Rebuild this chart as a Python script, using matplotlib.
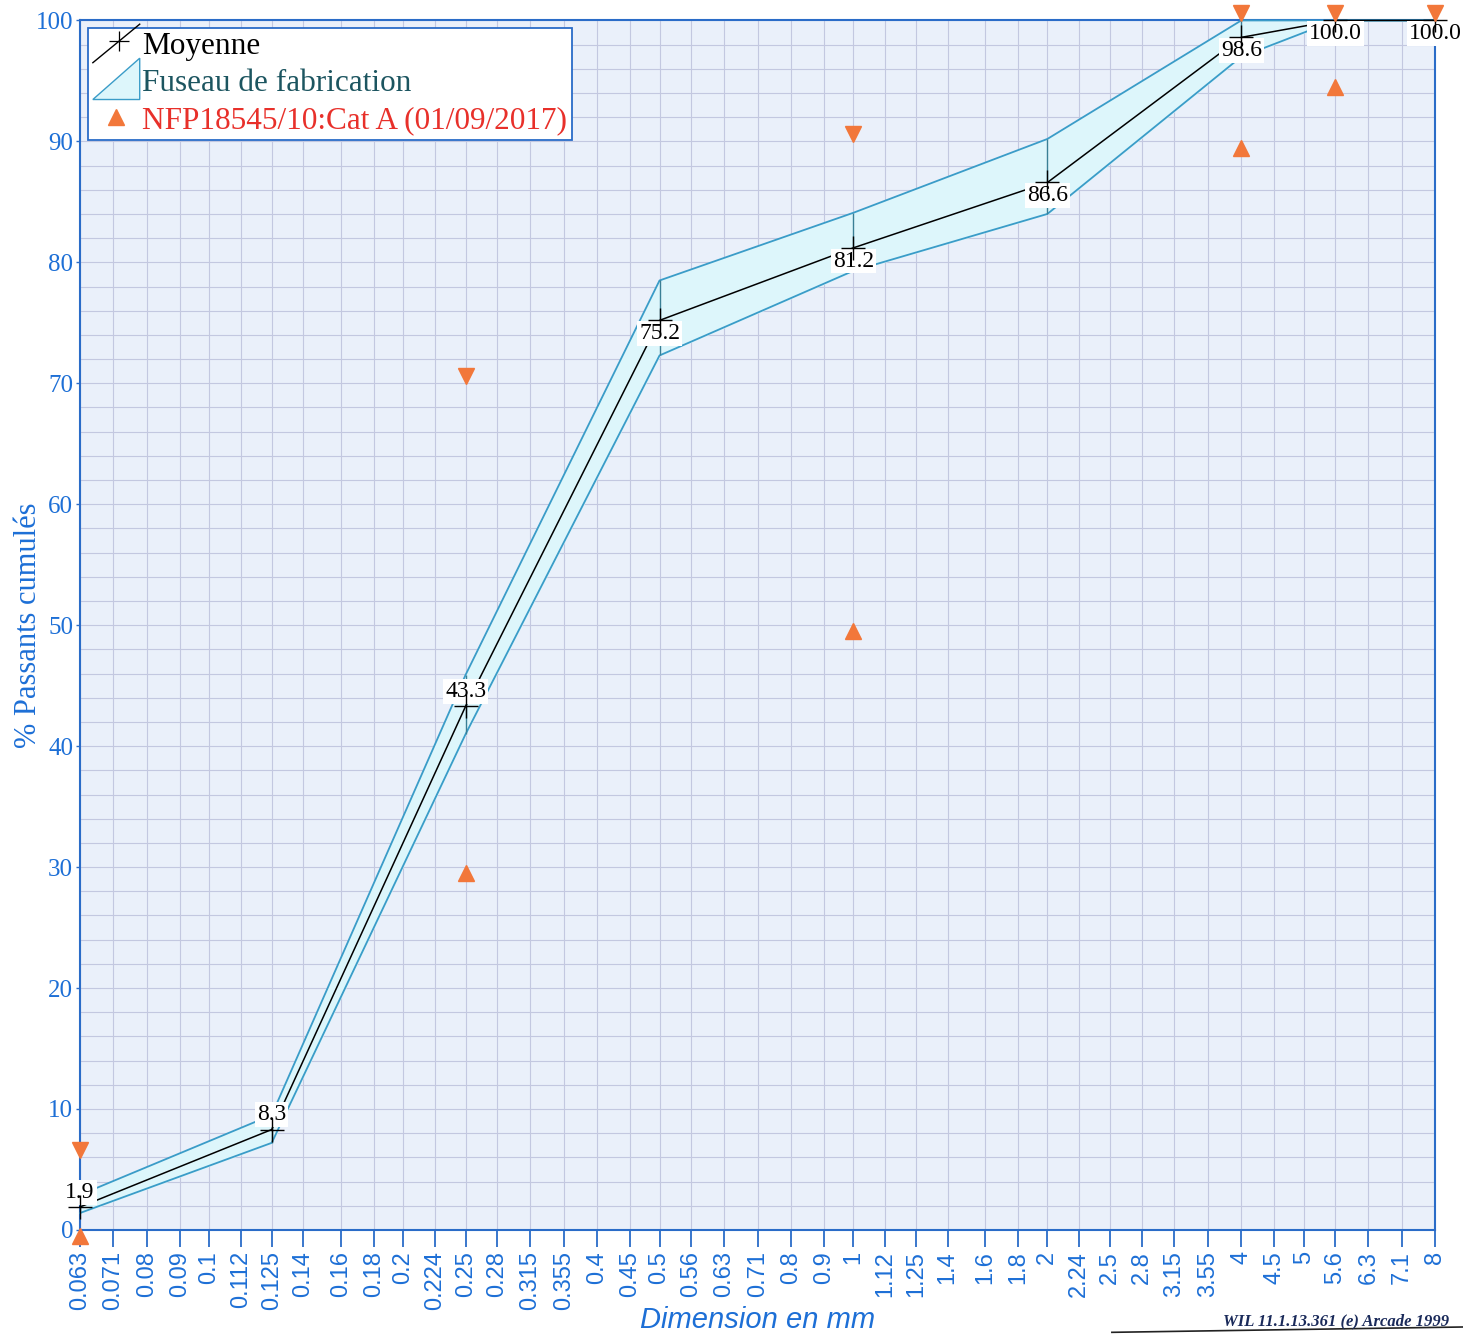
import matplotlib
matplotlib.use("Agg")
import matplotlib.pyplot as plt
import matplotlib.transforms as mtransforms
from matplotlib.lines import Line2D
from matplotlib.patches import Polygon
from matplotlib.legend_handler import HandlerBase
from matplotlib.ticker import FixedLocator, MultipleLocator, NullFormatter

# sieve sizes (mm) shown on the x axis
sieves = [0.063, 0.071, 0.08, 0.09, 0.1, 0.112, 0.125, 0.14, 0.16, 0.18, 0.2,
          0.224, 0.25, 0.28, 0.315, 0.355, 0.4, 0.45, 0.5, 0.56, 0.63, 0.71,
          0.8, 0.9, 1, 1.12, 1.25, 1.4, 1.6, 1.8, 2, 2.24, 2.5, 2.8, 3.15,
          3.55, 4, 4.5, 5, 5.6, 6.3, 7.1, 8]
sieve_labels = ["0.063", "0.071", "0.08", "0.09", "0.1", "0.112", "0.125", "0.14",
                "0.16", "0.18", "0.2", "0.224", "0.25", "0.28", "0.315", "0.355",
                "0.4", "0.45", "0.5", "0.56", "0.63", "0.71", "0.8", "0.9", "1",
                "1.12", "1.25", "1.4", "1.6", "1.8", "2", "2.24", "2.5", "2.8",
                "3.15", "3.55", "4", "4.5", "5", "5.6", "6.3", "7.1", "8"]

# mean curve and manufacturing band
x_pts = [0.063, 0.125, 0.25, 0.5, 1, 2, 4, 5.6, 8]
moyenne = [1.9, 8.3, 43.3, 75.2, 81.2, 86.6, 98.6, 100.0, 100.0]
fuseau_haut = [2.9, 9.5, 45.9, 78.5, 84.1, 90.2, 100.0, 100.0, 100.0]
fuseau_bas = [1.4, 7.2, 41.0, 72.3, 79.3, 84.0, 97.0, 100.0, 100.0]
labels_moy = ["1.9", "8.3", "43.3", "75.2", "81.2", "86.6", "98.6", "100.0", "100.0"]

# specification NFP18545/10 Cat A
spec_min_x = [0.063, 0.25, 1, 4, 5.6]
spec_min = [0, 30, 50, 90, 95]
spec_max_x = [0.063, 0.25, 1, 4, 5.6, 8]
spec_max = [6, 70, 90, 100, 100, 100]

BLUE = "#2a6cc8"
TICKBLUE = "#1d6fd6"
BAND_EDGE = "#3a9cc8"
BAND_FILL = "#ddf6fb"
ORANGE = "#f2773a"
GRID = "#c3c8e0"
SERIF = "Liberation Serif"


class DiagLineHandler(HandlerBase):
    def create_artists(self, legend, orig_handle, xdescent, ydescent,
                       width, height, fontsize, trans):
        ln = Line2D([-xdescent, -xdescent + width], [-ydescent - 6, -ydescent + height + 6],
                    color="black", lw=1.0, transform=trans)
        mk = Line2D([-xdescent + width * 0.55], [-ydescent + height * 0.62], marker="+",
                    markersize=14, mew=0.9, color="black", transform=trans)
        return [ln, mk]


class DiagBandHandler(HandlerBase):
    def create_artists(self, legend, orig_handle, xdescent, ydescent,
                       width, height, fontsize, trans):
        p = Polygon([[-xdescent, -ydescent - 6], [-xdescent + width, -ydescent + height + 8],
                     [-xdescent + width, -ydescent - 6]], closed=True,
                    facecolor=BAND_FILL, edgecolor=BAND_EDGE, lw=1.0, transform=trans)
        return [p]


fig = plt.figure(figsize=(14.63, 13.35), dpi=100)
ax = fig.add_axes([0.0547, 0.0787, 0.9263, 0.906])
ax.set_facecolor("#eaf0fa")
ax.set_xscale("log")
ax.set_xlim(0.063, 8)
ax.set_ylim(0, 100)

# grid
ax.xaxis.set_major_locator(FixedLocator(sieves))
ax.xaxis.set_minor_locator(FixedLocator([]))
ax.set_xticklabels(sieve_labels, rotation=90, fontsize=17, color=TICKBLUE)
ax.xaxis.set_minor_formatter(NullFormatter())
ax.yaxis.set_major_locator(MultipleLocator(10))
ax.yaxis.set_minor_locator(MultipleLocator(2))
ax.grid(True, which="major", axis="x", color=GRID, lw=0.8)
ax.grid(True, which="both", axis="y", color=GRID, lw=0.8)
ax.set_axisbelow(True)
ax.tick_params(axis="x", which="major", direction="out", length=12, width=1.3,
               color=BLUE, pad=3, labelfontfamily="Liberation Sans")
ax.tick_params(axis="y", which="major", direction="out", length=3, width=1.0,
               color=BLUE, labelsize=18, labelcolor=TICKBLUE, pad=2,
               labelfontfamily=SERIF)
ax.tick_params(axis="y", which="minor", length=0)
for sp in ax.spines.values():
    sp.set_color(BLUE)
    sp.set_linewidth(1.5)

# band
ax.fill_between(x_pts, fuseau_bas, fuseau_haut, color=BAND_FILL, zorder=2, clip_on=False)
ax.plot(x_pts, fuseau_haut, color=BAND_EDGE, lw=1.3, zorder=3, clip_on=False)
ax.plot(x_pts, fuseau_bas, color=BAND_EDGE, lw=1.3, zorder=3, clip_on=False)
ax.vlines(x_pts, fuseau_bas, fuseau_haut, color="#3a7f95", lw=1.0, zorder=3)

# mean curve
ax.plot(x_pts, moyenne, color="black", lw=1.1, zorder=4, clip_on=False)

# value labels
for i, (xv, yv, txt) in enumerate(zip(x_pts, moyenne, labels_moy)):
    if i < 3:
        off, va = 3, "bottom"
    else:
        off, va = -2, "top"
    ax.annotate(txt, (xv, yv), xytext=(0, off), textcoords="offset points",
                ha="center", va=va, fontsize=17, family=SERIF, color="black",
                bbox=dict(boxstyle="square,pad=0.08", fc="white", ec="none"),
                zorder=5, annotation_clip=False)

ax.plot(x_pts, moyenne, linestyle="none", marker="+", markersize=17, mew=1.0,
        color="black", zorder=6, clip_on=False)

# spec triangles, drawn with the tip on the value
up_shift = mtransforms.ScaledTranslation(0, -4.5 / 72, fig.dpi_scale_trans)
down_shift = mtransforms.ScaledTranslation(0, 5.5 / 72, fig.dpi_scale_trans)
ax.plot(spec_min_x, spec_min, linestyle="none", marker="^", markersize=11,
        color=ORANGE, transform=ax.transData + up_shift, clip_on=False, zorder=7)
ax.plot(spec_max_x, spec_max, linestyle="none", marker="v", markersize=11,
        color=ORANGE, transform=ax.transData + down_shift, clip_on=False, zorder=7)

# legend
h_moy = Line2D([], [])
h_fus = Polygon([[0, 0]])
h_spec = Line2D([], [], linestyle="none", marker="^", markersize=11, color=ORANGE)
leg = ax.legend([h_moy, h_fus, h_spec],
                ["Moyenne", "Fuseau de fabrication", "NFP18545/10:Cat A (01/09/2017)"],
                handler_map={h_moy: DiagLineHandler(), h_fus: DiagBandHandler()},
                loc="upper left", bbox_to_anchor=(0.006, 0.994), fancybox=False,
                framealpha=1.0, edgecolor=BLUE, prop={"family": SERIF, "size": 22.5},
                handlelength=1.5, handletextpad=0.08, borderpad=0.15, labelspacing=0.25,
                borderaxespad=0.0)
leg.get_frame().set_linewidth(1.3)
leg.set_zorder(10)
for t, c in zip(leg.get_texts(), ["black", "#1c5560", "#e8302a"]):
    t.set_color(c)

ax.set_ylabel("% Passants cumulés", fontsize=22, color=TICKBLUE, family=SERIF)
ax.yaxis.set_label_coords(-0.027, 0.5)
ax.set_xlabel("Dimension en mm", fontsize=21, color=TICKBLUE, family="Liberation Sans",
              style="italic")
ax.xaxis.set_label_coords(0.5, -0.0625)

fig.text(0.836, 0.004, "WIL 11.1.13.361 (e) Arcade 1999", fontsize=12, family=SERIF,
         style="italic", weight="bold", color="#1a2a5a", ha="left", va="bottom")
fig.add_artist(Line2D([0.76, 1.0], [0.002, 0.006], color="#222222", lw=1.2,
                      transform=fig.transFigure))

fig.savefig("out.png", dpi=100)
